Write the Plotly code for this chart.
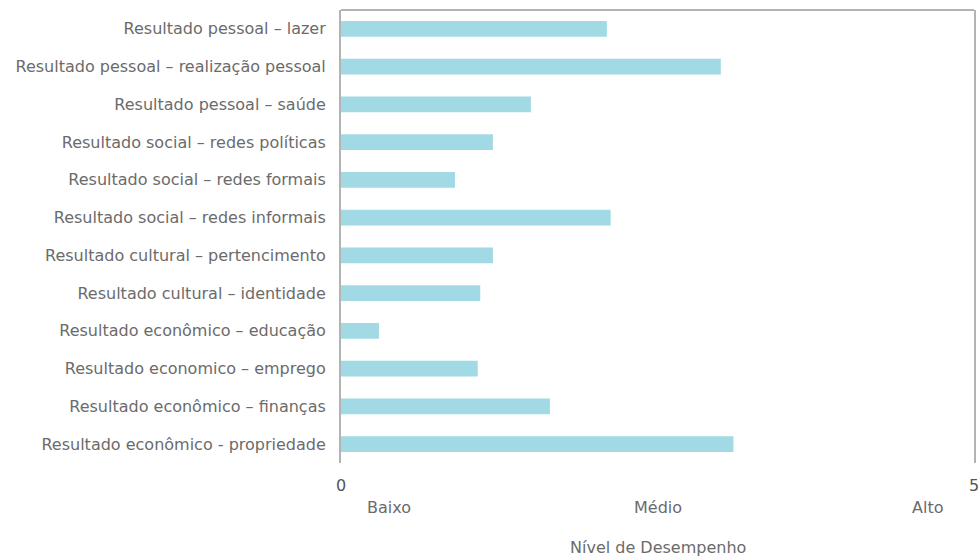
import plotly.graph_objects as go

# Categories listed top to bottom
categorias = [
    "Resultado pessoal – lazer",
    "Resultado pessoal – realização pessoal",
    "Resultado pessoal – saúde",
    "Resultado social – redes políticas",
    "Resultado social – redes formais",
    "Resultado social – redes informais",
    "Resultado cultural – pertencimento",
    "Resultado cultural – identidade",
    "Resultado econômico – educação",
    "Resultado economico – emprego",
    "Resultado econômico – finanças",
    "Resultado econômico - propriedade",
]
valores = [2.1, 3.0, 1.5, 1.2, 0.9, 2.13, 1.2, 1.1, 0.3, 1.08, 1.65, 3.1]

niveis = ["Baixo", "Médio", "Alto"]
niveis_pos = [0.38, 2.5, 4.63]
ticks_x = [0, 5]

texto = "#6b6b6b"
linha = "#b3b3b3"
fonte = "DejaVu Sans"

fig = go.Figure(go.Bar(
    x=valores,
    y=categorias,
    orientation="h",
    marker=dict(color="#a1dae4", line=dict(width=0)),
    width=0.42,
))

fig.update_layout(
    width=979, height=557,
    margin=dict(l=341, r=3, t=10, b=94),
    paper_bgcolor="white", plot_bgcolor="white",
    showlegend=False,
    font=dict(family=fonte, size=16, color=texto),
)

fig.update_yaxes(
    autorange="reversed",
    range=[11.5, -0.5],
    showgrid=False, zeroline=False,
    showline=True, mirror=True, linecolor=linha, linewidth=2,
    ticks="", ticklabelstandoff=10,
    tickfont=dict(size=16, color=texto),
)
fig.update_xaxes(
    range=[0, 5],
    showgrid=False, zeroline=False, showline=False,
    showticklabels=False, ticks="",
)

# Top border of the plot box
fig.add_shape(type="line", xref="paper", yref="paper",
              x0=0, x1=1, y0=1, y1=1,
              line=dict(color=linha, width=2))

# Axis end values (the right one runs off the page edge)
for v in ticks_x:
    fig.add_annotation(x=v, y=0, xref="x", yref="paper",
                       yshift=-34, text=str(v), showarrow=False,
                       xanchor="center",
                       font=dict(size=16, color="#555555"))

# Level labels under the axis
for nome, pos in zip(niveis, niveis_pos):
    fig.add_annotation(x=pos, y=0, xref="x", yref="paper",
                       yshift=-56, text=nome, showarrow=False,
                       font=dict(size=16, color=texto))

fig.add_annotation(x=2.5, y=0, xref="x", yref="paper",
                   yshift=-96, text="Nível de Desempenho", showarrow=False,
                   font=dict(size=16, color=texto))

fig.write_html("out.html")
